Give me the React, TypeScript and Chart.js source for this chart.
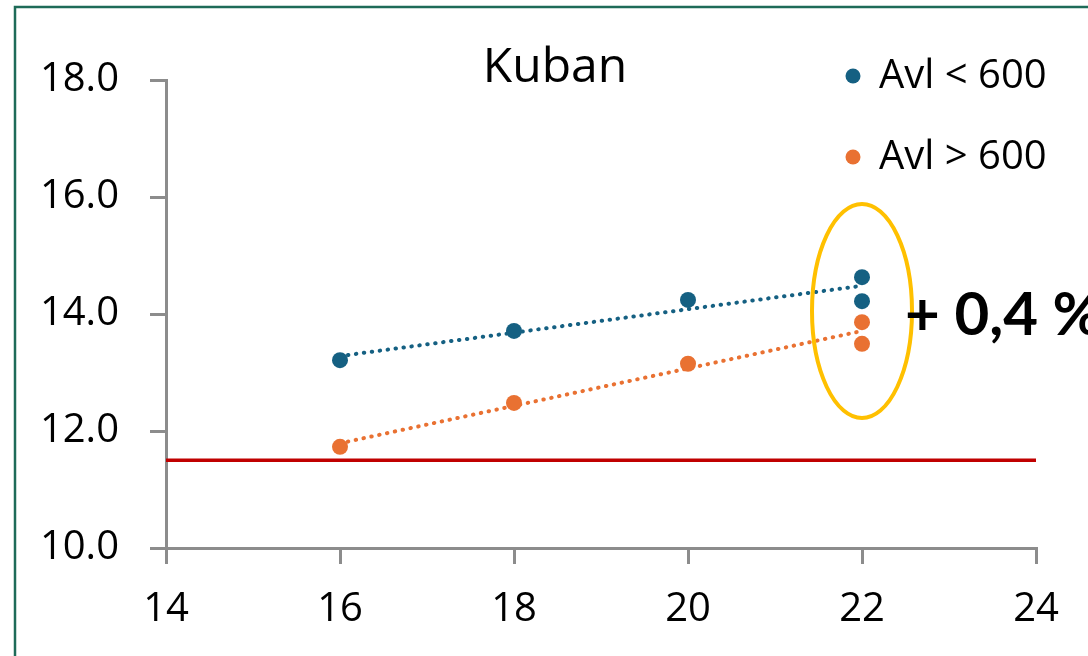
import React, { useEffect, useRef } from "react";
import { Chart, registerables } from "chart.js";

Chart.register(...registerables);

// ---- data ----
const title = "Kuban";
const seriesLabels = ["Avl < 600", "Avl > 600"];
const xValues = [16, 18, 20, 22, 22];
const belowValues = [13.21, 13.71, 14.24, 14.63, 14.22];
const aboveValues = [11.73, 12.48, 13.15, 13.86, 13.49];
const thresholdValue = 11.5;
const xRange = [14, 24];
const yRange = [10, 18];
const annotationText = "+ 0,4 %";
const highlightX = 22;
const highlightY = 14.05;

const BLUE = "#156082";
const ORANGE = "#E97132";
const RED = "#C00000";
const AXIS = "#8C8C8C";
const FONT = "'Open Sans', 'Noto Sans', sans-serif";

function trend(xs: number[], ys: number[]) {
  const n = xs.length;
  const mx = xs.reduce((a, b) => a + b, 0) / n;
  const my = ys.reduce((a, b) => a + b, 0) / n;
  let sxy = 0;
  let sxx = 0;
  for (let i = 0; i < n; i++) {
    sxy += (xs[i] - mx) * (ys[i] - my);
    sxx += (xs[i] - mx) * (xs[i] - mx);
  }
  const slope = sxy / sxx;
  const x0 = Math.min(...xs);
  const x1 = Math.max(...xs);
  return [
    { x: x0, y: my + slope * (x0 - mx) },
    { x: x1, y: my + slope * (x1 - mx) },
  ];
}

const toPoints = (xs: number[], ys: number[]) => xs.map((x, i) => ({ x, y: ys[i] }));

const decorPlugin = {
  id: "decor",
  afterDraw(chart: any) {
    const ctx = chart.ctx as CanvasRenderingContext2D;
    const xs = chart.scales.x;
    const ys = chart.scales.y;
    ctx.save();
    // frame
    ctx.strokeStyle = "#1E6B58";
    ctx.lineWidth = 2.5;
    ctx.strokeRect(15, 7, 1200, 800);
    // title
    ctx.fillStyle = "#000";
    ctx.font = `48px ${FONT}`;
    ctx.textAlign = "center";
    ctx.textBaseline = "middle";
    ctx.fillText(title, 555, 68);
    // legend
    const colors = [BLUE, ORANGE];
    ctx.font = `40px ${FONT}`;
    ctx.textAlign = "left";
    seriesLabels.forEach((lab, i) => {
      const y = 76 + i * 81;
      ctx.fillStyle = colors[i];
      ctx.beginPath();
      ctx.arc(853, y, 7.5, 0, Math.PI * 2);
      ctx.fill();
      ctx.fillStyle = "#000";
      ctx.fillText(lab, 879, y + 1);
    });
    // ellipse highlight
    const cx = xs.getPixelForValue(highlightX);
    const cy = ys.getPixelForValue(highlightY);
    ctx.strokeStyle = "#FFC000";
    ctx.lineWidth = 4;
    ctx.beginPath();
    ctx.ellipse(cx, cy, 50, 107, 0, 0, Math.PI * 2);
    ctx.stroke();
    // annotation
    ctx.fillStyle = "#000";
    ctx.font = `bold 60px Lato, ${FONT}`;
    ctx.textAlign = "left";
    ctx.textBaseline = "middle";
    ctx.fillText(annotationText, 905, 316);
    ctx.restore();
  },
};

export default function App() {
  const ref = useRef<HTMLCanvasElement | null>(null);
  useEffect(() => {
    if (!ref.current) return;
    const chart = new Chart(ref.current, {
      type: "scatter",
      data: {
        datasets: [
          {
            label: seriesLabels[0],
            data: toPoints(xValues, belowValues),
            backgroundColor: BLUE,
            borderWidth: 0,
            pointRadius: 8,
            order: 0,
          },
          {
            label: seriesLabels[1],
            data: toPoints(xValues, aboveValues),
            backgroundColor: ORANGE,
            borderWidth: 0,
            pointRadius: 8,
            order: 0,
          },
          {
            type: "line",
            label: "trend1",
            data: trend(xValues, belowValues),
            borderColor: BLUE,
            borderWidth: 4,
            borderDash: [0.5, 7.5],
            borderCapStyle: "round",
            pointRadius: 0,
            order: 1,
          },
          {
            type: "line",
            label: "trend2",
            data: trend(xValues, aboveValues),
            borderColor: ORANGE,
            borderWidth: 4,
            borderDash: [0.5, 7.5],
            borderCapStyle: "round",
            pointRadius: 0,
            order: 1,
          },
          {
            type: "line",
            label: "threshold",
            data: [
              { x: xRange[0], y: thresholdValue },
              { x: xRange[1], y: thresholdValue },
            ],
            borderColor: RED,
            borderWidth: 3.5,
            pointRadius: 0,
            order: 2,
          },
        ] as any,
      },
      options: {
        animation: false,
        responsive: false,
        layout: { padding: { left: 0, top: 80, right: 52, bottom: 0 } },
        plugins: { legend: { display: false }, tooltip: { enabled: false }, title: { display: false } },
        scales: {
          x: {
            type: "linear",
            min: xRange[0],
            max: xRange[1],
            ticks: { stepSize: 2, color: "#000", font: { family: FONT, size: 40 }, padding: 22, maxRotation: 0 },
            grid: { drawOnChartArea: false, drawTicks: true, tickLength: 16, color: AXIS, lineWidth: 3 },
            border: { display: true, color: AXIS, width: 3 },
            afterFit: (s: any) => {
              s.height = 108;
            },
          },
          y: {
            type: "linear",
            min: yRange[0],
            max: yRange[1],
            ticks: {
              stepSize: 2,
              color: "#000",
              font: { family: FONT, size: 40 },
              padding: 31,
              callback: (v: any) => Number(v).toFixed(1),
            },
            grid: { drawOnChartArea: false, drawTicks: true, tickLength: 16, color: AXIS, lineWidth: 3 },
            border: { display: true, color: AXIS, width: 3 },
            afterFit: (s: any) => {
              s.width = 166;
            },
          },
        },
      },
      plugins: [decorPlugin],
    });
    return () => chart.destroy();
  }, []);
  return (
    <div style={{ position: "fixed", left: 0, top: 0, width: 1088, height: 656, background: "#fff" }}>
      <canvas ref={ref} width={1088} height={656} />
    </div>
  );
}
